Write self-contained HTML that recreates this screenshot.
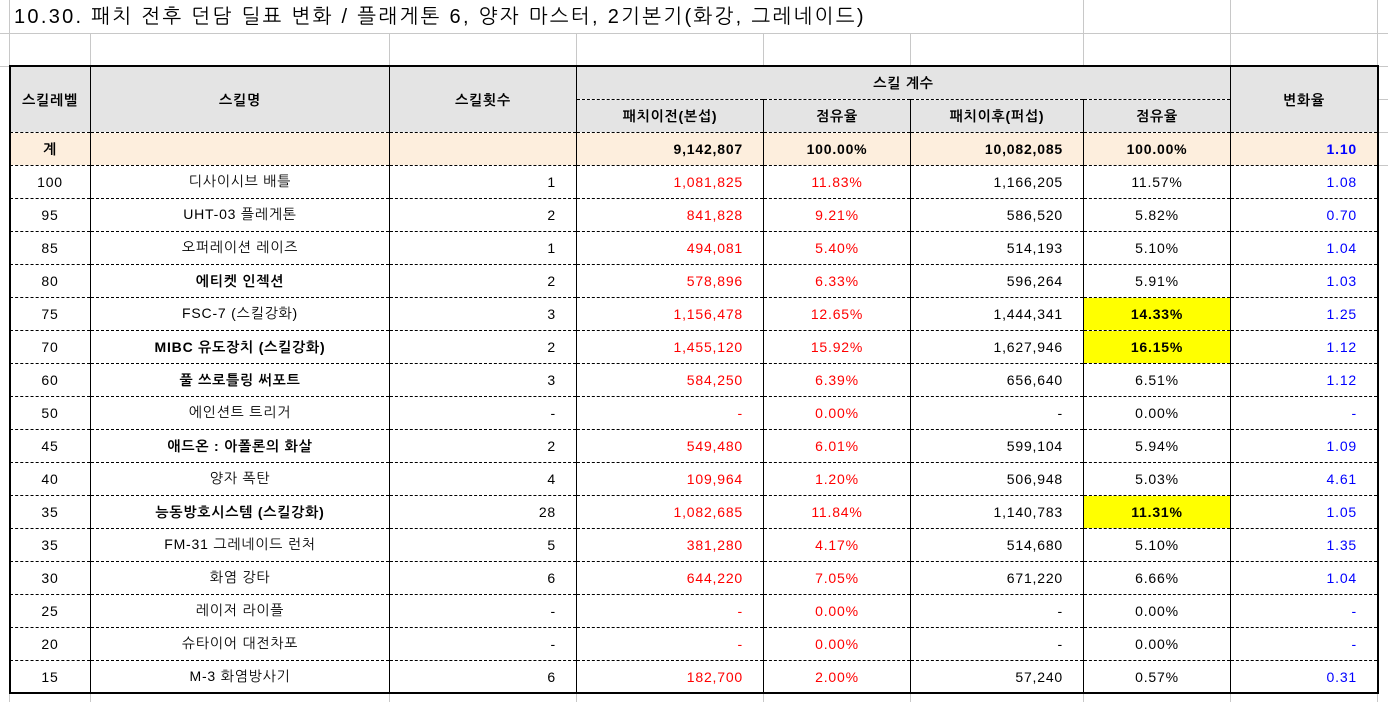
<!DOCTYPE html>
<html><head><meta charset="utf-8"><style>
body{margin:0;width:1388px;height:702px;background:#fff;position:relative;overflow:hidden;font-family:"Liberation Sans","NanumGothic","Noto Sans CJK KR",sans-serif;}
.g{position:absolute;background:#c8c8c8;}
.title{position:absolute;left:14px;top:4px;font-size:20px;color:#000;white-space:nowrap;letter-spacing:2.3px;}
table{position:absolute;left:9px;top:66px;border-collapse:collapse;table-layout:fixed;font-size:14px;letter-spacing:0.8px;}
td{height:32px;padding:0;border-left:1px solid #000;border-right:1px solid #000;border-top:1px dashed #000;border-bottom:1px dashed #000;text-align:center;white-space:nowrap;overflow:hidden;}
.r{text-align:right;padding-right:20px;}
.h td{background:#e4e4e4;font-weight:bold;}
.t td{background:#fdeedd;font-weight:bold;}
.red{color:#ff0000}.blue{color:#0000ff}
.y{background:#ffff00;font-weight:bold;}
.b{font-weight:bold;}
.outer{position:absolute;left:9px;top:65px;width:1366px;height:625px;border:2px solid #000;pointer-events:none;}
</style></head><body>
<div class="g" style="left:0;top:33px;width:1388px;height:1px"></div>
<div class="g" style="left:0;top:66px;width:1388px;height:1px"></div>
<div class="g" style="left:9px;top:0;width:1px;height:702px"></div>
<div class="g" style="left:1083px;top:0;width:1px;height:66px"></div>
<div class="g" style="left:1230px;top:0;width:1px;height:66px"></div>
<div class="g" style="left:1377px;top:0;width:1px;height:702px"></div>
<div class="g" style="left:90px;top:33px;width:1px;height:33px"></div>
<div class="g" style="left:389px;top:33px;width:1px;height:33px"></div>
<div class="g" style="left:576px;top:33px;width:1px;height:33px"></div>
<div class="g" style="left:763px;top:33px;width:1px;height:33px"></div>
<div class="g" style="left:910px;top:33px;width:1px;height:33px"></div>
<div class="g" style="left:90px;top:693px;width:1px;height:9px"></div>
<div class="g" style="left:389px;top:693px;width:1px;height:9px"></div>
<div class="g" style="left:576px;top:693px;width:1px;height:9px"></div>
<div class="g" style="left:763px;top:693px;width:1px;height:9px"></div>
<div class="g" style="left:910px;top:693px;width:1px;height:9px"></div>
<div class="g" style="left:1083px;top:693px;width:1px;height:9px"></div>
<div class="g" style="left:1230px;top:693px;width:1px;height:9px"></div>
<div class="g" style="left:1377px;top:99px;width:11px;height:1px"></div>
<div class="g" style="left:1377px;top:132px;width:11px;height:1px"></div>
<div class="g" style="left:1377px;top:165px;width:11px;height:1px"></div>
<div class="title">10.30. 패치 전후 던담 딜표 변화 / 플래게톤 6, 양자 마스터, 2기본기(화강, 그레네이드)</div>
<table>
<colgroup><col style="width:81px"><col style="width:299px"><col style="width:187px"><col style="width:187px"><col style="width:147px"><col style="width:173px"><col style="width:147px"><col style="width:147px"></colgroup>
<tr class="h"><td rowspan="2" style="height:65px">스킬레벨</td><td rowspan="2">스킬명</td><td rowspan="2">스킬횟수</td><td colspan="4">스킬 계수</td><td rowspan="2">변화율</td></tr>
<tr class="h"><td>패치이전(본섭)</td><td>점유율</td><td>패치이후(퍼섭)</td><td>점유율</td></tr>
<tr class="t"><td>계</td><td></td><td></td><td class="r">9,142,807</td><td>100.00%</td><td class="r">10,082,085</td><td>100.00%</td><td class="r blue">1.10</td></tr>
<tr><td>100</td><td>디사이시브 배틀</td><td class="r">1</td><td class="r red">1,081,825</td><td class="red">11.83%</td><td class="r">1,166,205</td><td>11.57%</td><td class="r blue">1.08</td></tr>
<tr><td>95</td><td>UHT-03 플레게톤</td><td class="r">2</td><td class="r red">841,828</td><td class="red">9.21%</td><td class="r">586,520</td><td>5.82%</td><td class="r blue">0.70</td></tr>
<tr><td>85</td><td>오퍼레이션 레이즈</td><td class="r">1</td><td class="r red">494,081</td><td class="red">5.40%</td><td class="r">514,193</td><td>5.10%</td><td class="r blue">1.04</td></tr>
<tr><td>80</td><td class="b">에티켓 인젝션</td><td class="r">2</td><td class="r red">578,896</td><td class="red">6.33%</td><td class="r">596,264</td><td>5.91%</td><td class="r blue">1.03</td></tr>
<tr><td>75</td><td>FSC-7 (스킬강화)</td><td class="r">3</td><td class="r red">1,156,478</td><td class="red">12.65%</td><td class="r">1,444,341</td><td class="y">14.33%</td><td class="r blue">1.25</td></tr>
<tr><td>70</td><td class="b">MIBC 유도장치 (스킬강화)</td><td class="r">2</td><td class="r red">1,455,120</td><td class="red">15.92%</td><td class="r">1,627,946</td><td class="y">16.15%</td><td class="r blue">1.12</td></tr>
<tr><td>60</td><td class="b">풀 쓰로틀링 써포트</td><td class="r">3</td><td class="r red">584,250</td><td class="red">6.39%</td><td class="r">656,640</td><td>6.51%</td><td class="r blue">1.12</td></tr>
<tr><td>50</td><td>에인션트 트리거</td><td class="r">-</td><td class="r red">-</td><td class="red">0.00%</td><td class="r">-</td><td>0.00%</td><td class="r blue">-</td></tr>
<tr><td>45</td><td class="b">애드온 : 아폴론의 화살</td><td class="r">2</td><td class="r red">549,480</td><td class="red">6.01%</td><td class="r">599,104</td><td>5.94%</td><td class="r blue">1.09</td></tr>
<tr><td>40</td><td>양자 폭탄</td><td class="r">4</td><td class="r red">109,964</td><td class="red">1.20%</td><td class="r">506,948</td><td>5.03%</td><td class="r blue">4.61</td></tr>
<tr><td>35</td><td class="b">능동방호시스템 (스킬강화)</td><td class="r">28</td><td class="r red">1,082,685</td><td class="red">11.84%</td><td class="r">1,140,783</td><td class="y">11.31%</td><td class="r blue">1.05</td></tr>
<tr><td>35</td><td>FM-31 그레네이드 런처</td><td class="r">5</td><td class="r red">381,280</td><td class="red">4.17%</td><td class="r">514,680</td><td>5.10%</td><td class="r blue">1.35</td></tr>
<tr><td>30</td><td>화염 강타</td><td class="r">6</td><td class="r red">644,220</td><td class="red">7.05%</td><td class="r">671,220</td><td>6.66%</td><td class="r blue">1.04</td></tr>
<tr><td>25</td><td>레이저 라이플</td><td class="r">-</td><td class="r red">-</td><td class="red">0.00%</td><td class="r">-</td><td>0.00%</td><td class="r blue">-</td></tr>
<tr><td>20</td><td>슈타이어 대전차포</td><td class="r">-</td><td class="r red">-</td><td class="red">0.00%</td><td class="r">-</td><td>0.00%</td><td class="r blue">-</td></tr>
<tr><td>15</td><td>M-3 화염방사기</td><td class="r">6</td><td class="r red">182,700</td><td class="red">2.00%</td><td class="r">57,240</td><td>0.57%</td><td class="r blue">0.31</td></tr>
</table>
<div class="outer"></div>
</body></html>
